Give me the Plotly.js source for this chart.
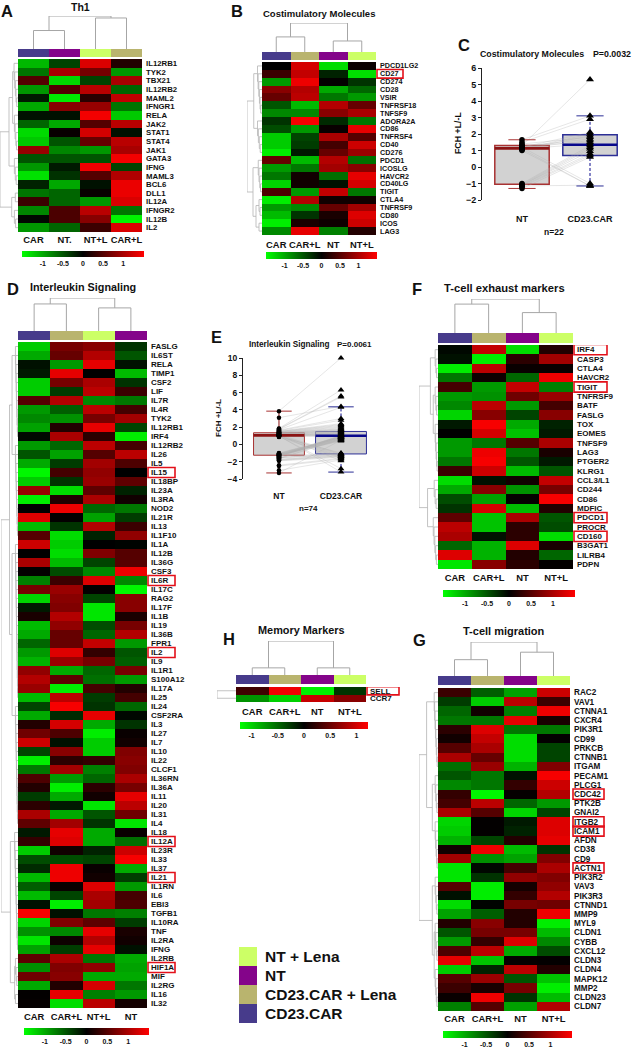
<!DOCTYPE html>
<html><head><meta charset="utf-8">
<script src="https://cdn.plot.ly/plotly-3.0.1.min.js"></script>
<style>html,body{margin:0;padding:0;background:#fff}#c{width:633px;height:1050px}</style>
</head><body><div id="c"></div><script>
// ---------- data ----------
const groupColors={'CAR':'#473b8b','CAR+L':'#b9b46e','NT':'#84048a','NT+L':'#ccff66'};
const groupOrder=['CAR','CAR+L','NT','NT+L'];

const genesA=['IL12RB1','TYK2','TBX21','IL12RB2','MAML2','IFNGR1','RELA','JAK2','STAT1','STAT4','JAK1','GATA3','IFNG','MAML3','BCL6','DLL1','IL12A','IFNGR2','IL12B','IL2'];
const colsA=['CAR','NT','NT+L','CAR+L'];
const labelsA=['CAR','NT.','NT+L','CAR+L'];
const valuesA=[[-1.1,-.4,1.3,.2],[-.7,1,.7,-.9],[.5,-1.3,-.4,1],[-.9,.5,1.1,-.6],[-.15,-1.4,.25,1.15],[-1,.8,.9,-.7],[-.1,-.1,1.45,-1.2],[-.6,-1,.5,1.1],[-1.3,.05,1.25,-.1],[-1.2,-.5,.6,1.1],[.9,-.8,-.9,1],[-.5,-.5,-.5,1.45],[-.9,-.15,1.45,-.4],[-1.35,-.3,.5,1.05],[-.2,-1,-.1,1.4],[-.7,-.6,.05,1.4],[.35,-.6,-.9,1.3],[-.8,.45,1.1,-.7],[-.05,.45,.8,-1.45],[-.9,-.6,.35,1.3]];

const genesB=['PDCD1LG2','CD27','CD274','CD28','VSIR','TNFRSF18','TNFSF9','ADORA2A','CD86','TNFRSF4','CD40','CD276','PDCD1','ICOSLG','HAVCR2','CD40LG','TIGIT','CTLA4','TNFRSF9','CD80','ICOS','LAG3'];
const valuesB=[[0,1.25,-1.3,.05],[.35,1.15,-.2,-1.3],[-.9,1.4,.02,-.3],[.8,1.05,-1,-.6],[.6,1.1,-.7,-.9],[-.5,-1.1,1.05,.6],[-.8,-.8,.8,1],[-.3,1.45,-.25,-.7],[-.45,-.9,.05,1.35],[-1.2,-.4,1,.5],[-1.2,-.35,.4,1.2],[-1.4,-.15,.6,.9],[.6,-1.1,1.05,-.65],[-.9,-.7,.95,.8],[-.7,.1,-.65,1.35],[-1.25,.1,-.1,1.25],[.45,-.9,1.15,-.7],[-1.4,1.05,.1,.1],[-.9,-.8,.6,.95],[-1.1,-.3,.15,1.3],[-1.4,.15,.08,1.2],[-.8,1.35,-.75,.2]];

const genesD=['FASLG','IL6ST','RELA','TIMP1','CSF2','LIF','IL7R','IL4R','TYK2','IL12RB1','IRF4','IL12RB2','IL26','IL5','IL15','IL18BP','IL23A','IL3RA','NOD2','IL21R','IL13','IL1F10','IL1A','IL12B','IL36G','CSF3','IL6R','IL17C','RAG2','IL17F','IL1B','IL19','IL36B','FPR1','IL2','IL9','IL1R1','S100A12','IL17A','IL25','IL24','CSF2RA','IL3','IL27','IL7','IL10','IL22','CLCF1','IL36RN','IL36A','IL11','IL20','IL31','IL4','IL18','IL12A','IL23R','IL33','IL37','IL21','IL1RN','IL6','EBI3','TGFB1','IL10RA','TNF','IL2RA','IFNG','IL2RB','HIF1A','MIF','IL2RG','IL16','IL32'];
const colsD=['CAR','CAR+L','NT+L','NT'];
const valuesD=[[-1.2,.7,.8,-.3],[-1,.6,1.05,-.5],[-.1,-.9,1.35,-.1],[-.15,1.35,0,-1.1],[-1.2,.7,1,-.3],[-1.2,-.35,1.1,.35],[.5,1.05,-.8,-.7],[-.9,-.55,1.1,.4],[-.8,-.85,.7,.95],[-.95,.2,1.35,-.4],[-.05,1,.25,-1.4],[-.9,-.6,1.1,.4],[-.5,-.95,.5,1.1],[-1,-.35,.95,.45],[-1.45,.4,.85,0],[-1.2,-.3,.9,.55],[.9,-1.3,.55,-.2],[-1.4,.2,1,.1],[0,1.4,-.6,-.7],[1.3,.02,-.95,-.35],[-1.1,-.3,1.05,.35],[.5,-1.3,-.2,.85],[1.2,-1.2,0,-.02],[0,-1.3,.75,.5],[1,-1.1,-.4,.5],[.02,-.45,-.8,1.4],[-.75,.35,1.3,-.8],[.7,.9,.02,-1.45],[-1.25,.8,-.4,.8],[-.15,.75,-1.35,.8],[.15,1.05,-1.35,.15],[-1.1,.85,-.45,.7],[-1,.6,-.6,1.05],[-.6,.6,1.15,-.9],[-.9,1.3,.3,-.5],[-1.05,.9,.7,-.55],[.85,-1,-.6,.7],[1.05,.55,-.65,-.9],[.9,-1.4,.4,.2],[-1.1,1.1,-.35,.4],[-.4,1.45,-.3,-.6],[-1,-.25,1.35,-.05],[.2,1.25,-1,-.3],[.65,.45,-1.4,.05],[1.2,-.1,-1.2,.1],[-.4,.8,-1.2,.75],[-1.4,.25,.3,.8],[-.7,.95,-.75,.75],[.45,-.9,-.6,1],[.2,-1.4,.25,.7],[-.35,-1,.1,1.35],[.25,-.15,-1.35,1.1],[1,-1,-.5,.65],[.55,.95,-.3,-1.35],[-.15,1.35,-1,.05],[.3,1.3,-1,-.65],[-1.2,.1,-.2,1.2],[-.45,-.45,-.4,1.45],[-.25,1.4,.05,-1],[-1.1,1.4,.1,-.35],[-.55,.05,1.3,-.9],[-1.1,-.4,1,.4],[-.1,-1.4,.95,.45],[1.45,-.1,-.7,-.75],[-1.25,.75,.55,-.35],[-.85,-.8,1.35,.15],[-1.35,.08,1.05,.1],[-.95,-.35,1.35,-.1],[.55,1,-.7,-1],[-.85,.75,.85,-.95],[.65,.8,-1,-1],[-1,.2,1.25,-.7],[.02,1.35,-.75,-.9],[.03,-1.3,1.1,.12]];

const genesF=['IRF4','CASP3','CTLA4','HAVCR2','TIGIT','TNFRSF9','BATF','FASLG','TOX','EOMES','TNFSF9','LAG3','PTGER2','KLRG1','CCL3/L1','CD244','CD86','MDFIC','PDCD1','PROCR','CD160','B3GAT1','LILRB4','PDPN'];
const valuesF=[[-.05,1.15,-1.3,.2],[-.1,-1.4,.25,.95],[-1.4,1.1,.05,.05],[-.7,.08,-.6,1.4],[.4,-.9,1.15,-.75],[-.9,-.85,.65,.9],[-.8,1.1,-.9,.4],[-1.25,.8,-.4,.8],[-.15,1.45,-1,-.2],[0,1.25,-1.15,-.15],[-.9,-.7,.5,1],[-.9,1.4,-.7,.15],[-.7,1.45,-.5,-.15],[.35,1.2,-1.1,-.5],[-1.3,-.1,.1,1.15],[-1,.8,-.85,.7],[-.45,-.95,.03,1.45],[-.3,1.25,-1.1,.2],[.55,-1.15,1,-.5],[1.1,-1.15,.25,-.45],[1,-.1,.25,-1.3],[-.6,-1.05,1.3,.15],[1.3,-1.05,.2,-.6],[-1.35,.8,.25,.02]];

const genesG=['RAC2','VAV1','CTNNA1','CXCR4','PIK3R1','CD99','PRKCB','CTNNB1','ITGAM','PECAM1','PLCG1','CDC42','PTK2B','GNAI2','ITGB2','ICAM1','AFDN','CD38','CD9','ACTN1','PIK3R2','VAV3','PIK3R3','CTNND1','MMP9','MYL9','CLDN1','CYBB','CXCL12','CLDN3','CLDN4','MAPK12','MMP2','CLDN23','CLDN7'];
const valuesG=[[.35,-.55,-.95,1.2],[-.35,-1.2,1.1,.35],[-.6,.1,-.75,1.4],[-.7,-.7,1.35,.15],[.25,1.3,-.7,-.7],[.1,1.15,-1.3,.02],[.5,1,-1.3,-.4],[1,.6,-1.3,-.4],[-.65,.9,-1.05,.75],[-.5,-.7,-.1,1.45],[-.8,-.7,.3,1.2],[.3,-1.45,.03,1.05],[.4,1.1,-.6,-.9],[1,.5,-1.25,-.4],[-1.25,.02,-.15,1.3],[-1.2,.02,-.2,1.3],[-1.05,-.4,.2,1.35],[.1,1.4,-1.1,-.3],[.95,-.85,-.95,.75],[-1.35,-.05,.4,1],[-1.35,-.3,.85,.75],[.5,-1.4,.12,.85],[-.1,-1.4,.3,1.05],[-1.3,-.02,.7,.65],[-.95,-.55,.2,1.4],[.2,.8,.2,-1.4],[-.5,.7,.7,-1.1],[-.9,.3,1.3,-.8],[.45,1.1,-1,-.45],[1.35,-1.15,.03,.02],[-1.2,-.2,1.1,.2],[.5,.9,-.5,-1.15],[.35,.15,.7,-1.4],[.05,1.4,-.3,-1.1],[-.75,.5,-.95,1.05]];

const genesH=['SELL','CCR7'];
const valuesH=[[.3,1.15,-1.15,-.25],[-.7,-1,.95,.65]];

const boxLabels=['NT','CD23.CAR'];
const ntC=[1.3,1.65,1.5,1.2,1.1,1.05,1.4,1.25,1.15,1.3,1.1,1.2,1.0,-1.0,-1.05,-1.1,-1.1,-1.15,-1.2,-1.3,-1.15,1.1];
const carC=[5.3,3.1,2.9,2.1,2.0,1.9,1.8,1.7,1.6,1.5,1.4,-1.0,-1.15,1.3,1.2,1.1,.95,.8,.7,.6,-1.1,-1.15];
const statsC={q1:[-1.05,.7],med:[1.13,1.35],q3:[1.3,1.95],lo:[-1.3,-1.15],hi:[1.65,3.1]};
const ntE=[3.85,3.1,1.85,1.8,1.75,1.7,1.65,1.6,1.55,1.5,1.5,1.45,1.45,1.4,1.4,1.35,1.35,1.3,1.3,1.25,1.25,1.2,1.2,1.2,1.15,1.15,1.1,1.1,1.1,1.1,1.05,1.05,1.05,1.05,1.0,1.0,1.0,.95,.95,.9,.9,.85,-1.0,-1.05,-1.05,-1.1,-1.1,-1.15,-1.15,-1.2,-1.2,-1.25,-1.25,-1.3,-1.3,-1.35,-1.35,-1.4,-1.4,-1.45,-1.5,-1.5,-1.55,-1.6,-1.65,-1.7,-1.75,-1.8,-1.85,-1.9,-2.4,-2.5,-3.0,-3.3];
const carE=[10,4.4,6.3,5.6,5.5,4.3,3.0,2.8,2.4,2.3,2.2,2.1,2.0,1.9,1.8,1.75,1.7,1.65,1.6,1.55,1.5,1.45,1.4,1.35,1.3,-1.1,1.25,1.2,1.15,-1.4,1.1,-1.9,1.05,1.05,-1.2,-3.2,1.0,-2.8,-1.5,-1.0,.95,-1.6,.9,.85,.8,.75,.7,.65,.6,.55,.5,.45,.4,1.0,.95,-1.05,1.05,.9,.85,.8,-1.1,-1.15,-1.2,.7,.6,-1.25,-1.3,-1.35,-1.4,-1.5,-1.6,-1.7,-1.8,.5];
const statsE={q1:[-1.25,-1.1],med:[1.05,1.0],q3:[1.35,1.5],lo:[-3.3,-3.2],hi:[3.85,4.35]};
const legendLabels=['NT + Lena','NT','CD23.CAR + Lena','CD23.CAR'];
const legendGroups=['NT+L','NT','CAR+L','CAR'];

// dendrogram trees: [height, childA, childB], leaves are row or column indices
function L(a,b,h){let n=b;for(let i=b-1;i>=a;i--){n=[h*(1-(i-a)/(b-a+1)),i,n];}return n;}
const topA=[1,[.56,0,1],[.94,2,3]], topB=[1,[.52,0,1],[.38,2,3]], topD=[1,[.82,0,1],[.7,2,3]], topF=[1,[.85,0,1],[.6,2,3]], topG=[1,[.48,0,1],[.7,2,3]], topH=[1,[.21,0,1],[.21,2,3]];
const leftA=[1,[.5,[.3,L(0,5,.22),L(6,10,.2)],L(11,14,.2)],[.35,L(15,16,.15),L(17,19,.2)]];
const leftB=[1,[.55,L(0,6,.3),L(7,11,.3)],[.6,L(12,16,.25),[.4,L(17,19,.2),L(20,21,.2)]]];
const leftD=[1,[.5,[.35,L(0,10,.15),L(11,21,.15)],[.35,L(22,39,.15),L(40,53,.15)]],[.45,L(54,67,.2),[.2,L(68,71,.15),L(72,73,.15)]]];
const leftF=[1,[.4,L(0,3,.15),[.25,L(4,7,.15),L(8,13,.15)]],[.55,L(14,17,.2),L(18,23,.25)]];
const leftG=[1,[.6,L(0,8,.2),[.3,L(9,13,.15),L(14,19,.15)]],[.3,L(20,24,.15),[.2,L(25,29,.15),L(30,34,.15)]]];
const leftH=[1,0,1];

// ---------- helpers ----------
const W=633,H=1050,FONT='"Liberation Sans",Arial,sans-serif',BLACK='#111';
const fx=p=>p/W, fy=p=>1-p/H;
const layout={width:W,height:H,margin:{l:0,r:0,t:0,b:0,autoexpand:false},paper_bgcolor:'#fff',plot_bgcolor:'rgba(0,0,0,0)',showlegend:false,font:{family:FONT,color:BLACK},annotations:[],shapes:[]};
const traces=[];
let nx=0,ny=0;
function newX(x0,x1,o){nx++;const k=nx===1?'xaxis':'xaxis'+nx;layout[k]=Object.assign({domain:[fx(x0),fx(x1)],visible:false,fixedrange:true,showgrid:false,zeroline:false},o);return nx===1?'x':'x'+nx;}
function newY(y0,y1,o){ny++;const k=ny===1?'yaxis':'yaxis'+ny;layout[k]=Object.assign({domain:[fy(y1),fy(y0)],visible:false,fixedrange:true,showgrid:false,zeroline:false},o);return ny===1?'y':'y'+ny;}
const akey=id=>id.length===1?(id==='x'?'xaxis':'yaxis'):(id[0]==='x'?'xaxis':'yaxis')+id.slice(1);
function note(text,x,y,size,o){layout.annotations.push(Object.assign({text:text,xref:'paper',yref:'paper',x:fx(x),y:fy(y),xanchor:'center',yanchor:'middle',showarrow:false,font:{size:size,family:FONT,color:BLACK,weight:700}},o||{}));}
const HEAT=[[0,'#00ff00'],[.5,'#000000'],[1,'#ff0000']];
const groupScale=[];groupOrder.forEach((g,i)=>{groupScale.push([i/4,groupColors[g]],[(i+1)/4,groupColors[g]]);});
function treeLines(node,horiz){ // horiz: height along x (row dendrogram)
  const X=[],Y=[];
  function walk(n){if(typeof n==='number')return{p:n,h:0};
    const a=walk(n[1]),b=walk(n[2]),h=n[0];
    const px=[a.h,h,h,b.h],pp=[a.p,a.p,b.p,b.p];
    (horiz?X:Y).push(...px,null);(horiz?Y:X).push(...pp,null);
    return{p:(a.p+b.p)/2,h:h};}
  walk(node);return{x:X,y:Y};
}
function heatPanel(c){
  const n=c.genes.length;
  const hx=newX(c.x0,c.x1,{visible:true,range:[-.5,3.5],showline:false,ticks:'',tickmode:'array',tickvals:c.tickpos||[0,1,2,3],ticktext:c.labels||c.cols,tickfont:{size:c.colFont||9.4,family:FONT,weight:700,color:BLACK},ticklabelstandoff:c.colStand===undefined?3:c.colStand});
  const hy=newY(c.y0,c.y1,{visible:true,range:[n-.5,-.5],showline:false,side:'right',ticks:'',tickmode:'array',tickvals:c.genes.map((g,i)=>i),ticktext:c.genes,tickfont:{size:c.geneFont||8,family:FONT,weight:700,color:BLACK},ticklabelstandoff:c.geneStand||3});
  layout[akey(hx)].anchor=hy;layout[akey(hy)].anchor=hx;
  traces.push({type:'heatmap',xaxis:hx,yaxis:hy,x:[0,1,2,3],y:c.genes.map((g,i)=>i),z:c.values,colorscale:HEAT,zmin:-c.zmax,zmax:c.zmax,hoverinfo:'skip',showscale:true,
    colorbar:{orientation:'h',x:fx(c.cb[0]),xanchor:'left',y:fy(c.cb[2]),yanchor:'top',len:c.cb[1]-c.cb[0],lenmode:'pixels',thickness:c.cb[3]-c.cb[2],thicknessmode:'pixels',xpad:0,ypad:0,outlinewidth:0,tickmode:'array',tickvals:[-1,-.5,0,.5,1],ticktext:['-1','-0.5','0','0.5','1'],ticks:'',ticklen:0,tickfont:{size:7,family:FONT,weight:700,color:BLACK}}});
  const by=newY(c.bar[0],c.bar[1],{range:[-.5,.5]});
  traces.push({type:'heatmap',xaxis:hx,yaxis:by,x:[0,1,2,3],y:[0],z:[c.cols.map(g=>groupOrder.indexOf(g))],colorscale:groupScale,zmin:0,zmax:4,zauto:false,showscale:false,hoverinfo:'skip'});
  const ty=newY(c.top,c.bar[0],{range:[0,1]});
  let t=treeLines(c.topTree,false);
  traces.push({type:'scatter',mode:'lines',xaxis:hx,yaxis:ty,x:t.x,y:t.y,line:{color:'#a6a6a6',width:1},hoverinfo:'skip',cliponaxis:false});
  const lx=newX(c.left,c.x0,{range:[1,0]});
  t=treeLines(c.leftTree,true);
  traces.push({type:'scatter',mode:'lines',xaxis:lx,yaxis:hy,x:t.x,y:t.y,line:{color:'#b4b4b4',width:.8},hoverinfo:'skip',cliponaxis:false});
  (c.marked||[]).forEach(g=>{const i=c.genes.indexOf(g);
    layout.shapes.push({type:'rect',xref:'paper',yref:hy,x0:fx(c.mark[0]),x1:fx(c.mark[1]),y0:i-.55,y1:i+.55,line:{color:'#e3101a',width:1.6},fillcolor:'rgba(0,0,0,0)',layer:'above'});});
}
function boxPanel(c){
  const bx=newX(c.x0,c.x1,{visible:true,range:c.xr,showline:false,ticks:'',tickmode:'array',tickvals:[0,1],ticktext:boxLabels,tickfont:{size:c.xSize,family:FONT,weight:700,color:BLACK},ticklabelstandoff:c.xStand});
  const by=newY(c.y0,c.y1,{visible:true,range:c.yr,showline:true,linecolor:'#222',linewidth:1,ticks:'outside',ticklen:3,tickcolor:'#222',tickmode:'array',tickvals:c.yt,tickfont:{size:c.ySize,family:FONT,weight:700,color:BLACK}});
  layout[akey(bx)].anchor=by;layout[akey(by)].anchor=bx;
  const colors=['#a83232','#2c2f96'],medc=['#8c1414','#08088c'];
  [0,1].forEach(i=>{
    traces.push({type:'box',xaxis:bx,yaxis:by,x:[i],q1:[c.s.q1[i]],median:[c.s.med[i]],q3:[c.s.q3[i]],lowerfence:[c.s.q1[i]],upperfence:[c.s.q3[i]],width:c.bw,whiskerwidth:0,fillcolor:'#d2d2d2',line:{color:colors[i],width:c.boxW},boxpoints:false,hoverinfo:'skip'});
  });
  // paired lines
  const px=[],py=[];c.a.forEach((v,i)=>{px.push(0,1,null);py.push(v,c.b[i],null);});
  traces.push({type:'scatter',mode:'lines',xaxis:bx,yaxis:by,x:px,y:py,line:{color:'rgba(175,175,175,.35)',width:.9},hoverinfo:'skip'});
  [0,1].forEach(i=>{
    traces.push({type:'scatter',mode:'lines',xaxis:bx,yaxis:by,x:[i-c.bw/2,i+c.bw/2],y:[c.s.med[i],c.s.med[i]],line:{color:medc[i],width:2.6},hoverinfo:'skip'});
    traces.push({type:'scatter',mode:'lines',xaxis:bx,yaxis:by,x:[i,i,null,i,i],y:[c.s.lo[i],c.s.q1[i],null,c.s.q3[i],c.s.hi[i]],line:{color:medc[i],width:1,dash:i?'3px,2px':'solid'},hoverinfo:'skip'});
    traces.push({type:'scatter',mode:'lines',xaxis:bx,yaxis:by,x:[i-c.bw/4,i+c.bw/4,null,i-c.bw/4,i+c.bw/4],y:[c.s.lo[i],c.s.lo[i],null,c.s.hi[i],c.s.hi[i]],line:{color:colors[i],width:1},hoverinfo:'skip'});
  });
  traces.push({type:'scatter',mode:'markers',xaxis:bx,yaxis:by,x:c.a.map(()=>0),y:c.a,marker:{symbol:'circle',size:c.ms,color:'#000'},hoverinfo:'skip',cliponaxis:false});
  traces.push({type:'scatter',mode:'markers',xaxis:bx,yaxis:by,x:c.b.map(()=>1),y:c.b,marker:{symbol:'triangle-up',size:c.ms+1.5,color:'#000'},hoverinfo:'skip',cliponaxis:false});
}
// ---------- panels ----------
heatPanel({genes:genesA,values:valuesA,cols:colsA,labels:labelsA,x0:18,x1:142,y0:59,y1:232,bar:[49,57],top:16,left:0,topTree:topA,leftTree:leftA,zmax:1.52,cb:[22,144,251,257],geneFont:7.8,colStand:1});
heatPanel({genes:genesB,values:valuesB,cols:groupOrder,labels:['CAR','CAR+L','NT','NT+L'],x0:262,x1:376,y0:62,y1:235,bar:[52,60],top:23,left:247,topTree:topB,leftTree:leftB,zmax:1.5,cb:[266,377,252,259],geneFont:7.2,marked:['CD27'],mark:[377,403]});
heatPanel({genes:genesD,values:valuesD,cols:colsD,x0:18,x1:147,y0:342,y1:1008,bar:[331,340],top:298,left:1,topTree:topD,leftTree:leftD,zmax:1.5,cb:[24,149,1028,1035],geneFont:8,marked:['IL15','IL6R','IL2','IL12A','IL21','HIF1A'],mark:[148,175],colStand:2});
heatPanel({genes:genesF,values:valuesF,cols:groupOrder,x0:438,x1:573,y0:345,y1:569,bar:[333,343],top:299,left:419,topTree:topF,leftTree:leftF,zmax:1.5,cb:[443,575,590,597],geneFont:8,marked:['IRF4','TIGIT','PDCD1','CD160'],mark:[574,607],colStand:2});
heatPanel({genes:genesG,values:valuesG,cols:groupOrder,x0:438,x1:570,y0:688,y1:1011,bar:[676,685],top:642,left:419,topTree:topG,leftTree:leftG,zmax:1.5,cb:[443,572,1031,1038],geneFont:8.2,marked:['CDC42','ITGB2','ICAM1','ACTN1'],mark:[573,604],colStand:1});
heatPanel({genes:genesH,values:valuesH,cols:groupOrder,x0:236,x1:366,y0:687,y1:702,bar:[675,684],top:641,left:217,topTree:topH,leftTree:leftH,zmax:1.22,cb:[240,368,722,729],geneFont:8,marked:['SELL'],mark:[367,399]});

boxPanel({x0:482,x1:630,y0:68,y1:200,xr:[-.588,1.588],yr:[-2,6],yt:[-2,-1,0,1,2,3,4,5,6],ySize:9,xSize:9,s:statsC,a:ntC,b:carC,bw:.8,ms:5.5,xStand:12,boxW:1.5});
boxPanel({x0:243,x1:390,y0:358,y1:479,xr:[-.58,1.79],yr:[-4,10],yt:[-4,-2,0,2,4,6,8,10],ySize:8.5,xSize:8.5,s:statsE,a:ntE,b:carE,bw:.82,ms:4.5,xStand:10,boxW:1});

// legend swatches
const lgx=newX(239,257,{range:[-.5,.5]});
const lgy=newY(947,1023,{visible:true,range:[3.5,-.5],side:'right',showline:false,ticks:'',tickmode:'array',tickvals:[0,1,2,3],ticktext:legendLabels,tickfont:{size:15.5,family:FONT,weight:700,color:BLACK},ticklabelstandoff:7});
layout[akey(lgy)].anchor=lgx;layout[akey(lgx)].anchor=lgy;
traces.push({type:'heatmap',xaxis:lgx,yaxis:lgy,x:[0],y:[0,1,2,3],z:legendGroups.map(g=>[groupOrder.indexOf(g)]),colorscale:groupScale,zmin:0,zmax:4,zauto:false,showscale:false,hoverinfo:'skip'});

// ---------- text ----------
[['A',7,10.5],['B',237,10.5],['C',464,45],['D',13,289],['E',216,337],['F',417,289],['G',419,640],['H',229,639]].forEach(p=>note(p[0],p[1],p[2],16.5));
note('Th1',80,7,10.5);
note('Costimulatory Molecules',319,14,9.5);
note('Interleukin Signaling',83,287,10.8);
note('T-cell exhaust markers',505,288,11.2);
note('T-cell migration',504,631,11);
note('Memory Markers',301,630,10.9);
note('Costimulatory Molecules',532,54,8.8);
note('P=0.0032',612,54,8.8);
note('n=22',554,232,8.5);
note('FCH +L/-L',458,133,8.8,{textangle:-90});
note('Interleukin Signaling',289,345,8.2);
note('P=0.0061',354,345,8);
note('n=74',308,508,8);
note('FCH +L/-L',219,418,8,{textangle:-90});

Plotly.newPlot('c',traces,layout,{staticPlot:true,displayModeBar:false});
</script></body></html>
